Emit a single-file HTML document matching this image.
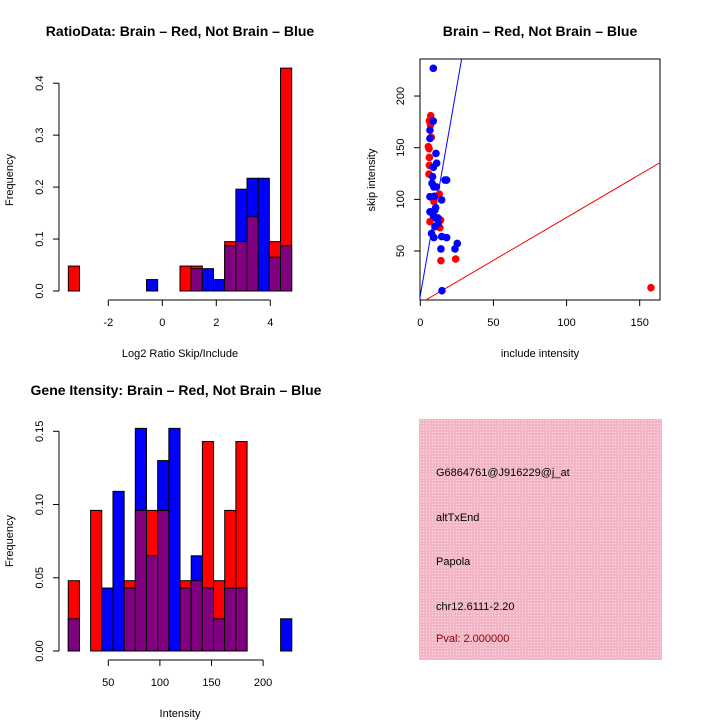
<!DOCTYPE html>
<html><head><meta charset="utf-8"><style>
html,body{margin:0;padding:0;background:#fff}
svg{display:block;font-family:"Liberation Sans",sans-serif}
</style></head><body>
<svg id="s" width="720" height="720" viewBox="0 0 720 720">
<defs><pattern id="hatch" width="3" height="3" patternUnits="userSpaceOnUse"><rect width="3" height="3" fill="#f3b6c6"/><rect width="1" height="1" fill="#fbe0e8"/></pattern></defs>
<text x="180" y="36" text-anchor="middle" font-size="14" font-weight="bold">RatioData: Brain – Red, Not Brain – Blue</text>
<text x="540" y="36" text-anchor="middle" font-size="14" font-weight="bold">Brain – Red, Not Brain – Blue</text>
<text x="176" y="395" text-anchor="middle" font-size="14" font-weight="bold">Gene Itensity: Brain – Red, Not Brain – Blue</text>
<text x="180" y="357" text-anchor="middle" font-size="11">Log2 Ratio Skip/Include</text>
<text transform="translate(13,180) rotate(-90)" text-anchor="middle" font-size="11">Frequency</text>
<text x="180" y="717" text-anchor="middle" font-size="11">Intensity</text>
<text transform="translate(13,541) rotate(-90)" text-anchor="middle" font-size="11">Frequency</text>
<text x="540" y="357" text-anchor="middle" font-size="11">include intensity</text>
<text transform="translate(375,180) rotate(-90)" text-anchor="middle" font-size="11">skip intensity</text>
<g>
<rect x="419" y="419" width="243" height="241" fill="url(#hatch)"/>
<text x="436" y="476" font-size="11">G6864761@J916229@j_at</text>
<text x="436" y="521" font-size="11">altTxEnd</text>
<text x="436" y="565" font-size="11">Papola</text>
<text x="436" y="610" font-size="11">chr12.6111-2.20</text>
<text x="436" y="642" font-size="11" fill="#8b0000">Pval: 2.000000</text>
</g>
</svg>
<script>
// ---- Ratio histogram data ----
const ratioBreakStart = -3.48;
const ratioBinWidth = 0.4136;
const ratioRed = [0.048,0,0,0,0,0,0,0,0,0,0.048,0.048,0,0,0.095,0.095,0.143,0,0.095,0.429];
const ratioBlue = [0,0,0,0,0,0,0,0.022,0,0,0,0.043,0.043,0.022,0.087,0.196,0.217,0.217,0.065,0.087];
const ratioXTicks = [-2,0,2,4];
const ratioYTicks = [0,0.1,0.2,0.3,0.4];
// ---- Intensity histogram data ----
const intBreakStart = 11.2;
const intBinWidth = 10.83;
const intRed = [0.048,0,0.096,0,0,0.048,0.096,0.096,0.096,0,0.048,0.048,0.143,0.048,0.096,0.143,0,0,0,0];
const intBlue = [0.022,0,0,0.043,0.109,0.043,0.152,0.065,0.130,0.152,0.043,0.065,0.043,0.022,0.043,0.043,0,0,0,0.022];
const intXTicks = [50,100,150,200];
const intYTicks = [0,0.05,0.10,0.15];
// ---- Scatter data ----
const redX = [6.2,7.1,7,5.5,6,6.2,6.2,5.9,13,9.3,6.6,13.9,13.4,14.1,24.2,157.7,8,7.5];
const redY = [176,181,172,151,149,140.6,133,124.5,105,98,78.4,80,72.6,40.7,42.3,14.5,88,160];
const blueX = [8.9,8.9,6.6,6.6,10.7,11.2,8.9,8.4,8,9.3,11,6.6,9.5,14.6,16.9,18,6.6,10,9,11.2,12.3,10,7.7,9.3,14.6,18,14.1,23.7,25.3,14.8,12,10.5];
const blueY = [226.8,175.8,167,159,144.5,135,131,122,115.5,112,112,102.6,103,99.4,118.7,118.7,88,89.7,84,81.6,77,73.6,67,63,64,63,52,52,57.4,11.6,82,92];
const scXTicks = [0,50,100,150];
const scYTicks = [50,100,150,200];
const blueLine = [8.1,7];   // slope, intercept
const redLine = [0.83,-0.5];

const svg = document.getElementById('s');
const NS = 'http://www.w3.org/2000/svg';
function mk(tag, attrs){const e=document.createElementNS(NS,tag);for(const k in attrs)e.setAttribute(k,attrs[k]);svg.appendChild(e);return e;}

function hist(p){
  const xs=v=>p.x0+(v-p.xmin)*p.kx, ys=v=>p.y0-v*p.ky;
  const n=p.red.length;
  for(let i=0;i<n;i++){
    const l=xs(p.start+i*p.w), r=xs(p.start+(i+1)*p.w);
    const rv=p.red[i], bv=p.blue[i];
    const layers=[];
    if(rv>0&&bv>0){
      if(rv>=bv){layers.push(['#ff0000',rv,'red']);layers.push(['#800080',bv,'overlap']);}
      else{layers.push(['#0000ff',bv,'blue']);layers.push(['#800080',rv,'overlap']);}
    } else if(rv>0) layers.push(['#ff0000',rv,'red']);
    else if(bv>0) layers.push(['#0000ff',bv,'blue']);
    layers.forEach(L=>{
      const e=mk('rect',{x:l,y:ys(L[1]),width:r-l,height:ys(0)-ys(L[1]),fill:L[0],stroke:'#000','stroke-width':1});
      
      
    });
  }
  const ya=mk('line',{x1:p.yax,x2:p.yax,y1:ys(p.yt[0]),y2:ys(p.yt[p.yt.length-1]),stroke:'#000'});
  
  
  p.yt.forEach(t=>{
    mk('line',{x1:p.yax-6,x2:p.yax,y1:ys(t),y2:ys(t),stroke:'#000'});
    const tx=mk('text',{transform:`translate(${p.yax-16},${ys(t)}) rotate(-90)`,'text-anchor':'middle','font-size':11});
    tx.textContent=p.yfmt(t);
    
    
  });
  const xa=mk('line',{x1:xs(p.xt[0]),x2:xs(p.xt[p.xt.length-1]),y1:p.xax,y2:p.xax,stroke:'#000'});
  
  
  p.xt.forEach(t=>{
    mk('line',{x1:xs(t),x2:xs(t),y1:p.xax,y2:p.xax+6,stroke:'#000'});
    const tx=mk('text',{x:xs(t),y:p.xax+26,'text-anchor':'middle','font-size':11});
    tx.textContent=t;
    
    
  });
}
hist({name:'ratio',red:ratioRed,blue:ratioBlue,start:ratioBreakStart,w:ratioBinWidth,xmin:0,x0:162.3,kx:27,y0:291,ky:519.5,xt:ratioXTicks,yt:ratioYTicks,yax:59,xax:300,yfmt:t=>t.toFixed(1)});
hist({name:'intensity',red:intRed,blue:intBlue,start:intBreakStart,w:intBinWidth,xmin:50,x0:108.3,kx:1.032,y0:651,ky:1464.7,xt:intXTicks,yt:intYTicks,yax:59,xax:660,yfmt:t=>t.toFixed(2)});

(function(){
  const L=420,R=660,T=59,B=300;
  const xs=v=>420.3+v*1.4626, ys=v=>302.7-v*1.0333;
  const cp=document.createElementNS(NS,'clipPath');cp.setAttribute('id','clipS');
  const cr=document.createElementNS(NS,'rect');cr.setAttribute('x',L);cr.setAttribute('y',T);cr.setAttribute('width',R-L);cr.setAttribute('height',B-T);
  cp.appendChild(cr);svg.appendChild(cp);
  const box=mk('rect',{x:L,y:T,width:R-L,height:B-T,fill:'none',stroke:'#000'});
  
  
  [[blueLine,'#0000ff','blue-fit-line'],[redLine,'#ff0000','red-fit-line']].forEach(l=>{
    const e=mk('line',{x1:xs(-5),y1:ys(l[0][0]*-5+l[0][1]),x2:xs(170),y2:ys(l[0][0]*170+l[0][1]),stroke:l[1],'clip-path':'url(#clipS)'});
    
    
  });
  redX.forEach((v,i)=>{const c=mk('circle',{cx:xs(v),cy:ys(redY[i]),r:3.8,fill:'#ff0000'});
    
    });
  blueX.forEach((v,i)=>{const c=mk('circle',{cx:xs(v),cy:ys(blueY[i]),r:3.8,fill:'#0000ff'});
    
    });
  scXTicks.forEach(t=>{mk('line',{x1:xs(t),x2:xs(t),y1:B,y2:B+6,stroke:'#000'});
    const tx=mk('text',{x:xs(t),y:B+26,'text-anchor':'middle','font-size':11});tx.textContent=t;
    
    });
  scYTicks.forEach(t=>{mk('line',{x1:L-6,x2:L,y1:ys(t),y2:ys(t),stroke:'#000'});
    const tx=mk('text',{transform:`translate(${L-16},${ys(t)}) rotate(-90)`,'text-anchor':'middle','font-size':11});tx.textContent=t;
    
    });
})();
</script>
</body></html>
